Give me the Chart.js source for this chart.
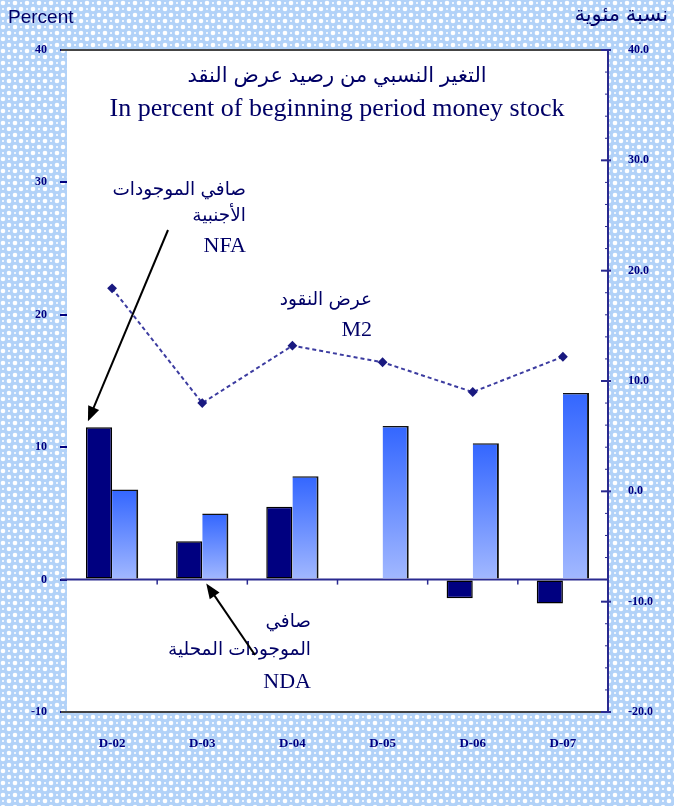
<!DOCTYPE html>
<html>
<head>
<meta charset="utf-8">
<script src="https://cdn.jsdelivr.net/npm/chart.js@4"></script>
<style>
  html, body { margin: 0; padding: 0; background: #fff; }
  #wrap { width: 674px; height: 806px; position: relative; }
</style>
</head>
<body>
<div id="wrap"><canvas id="chart" width="674" height="806"></canvas></div>
<script>
// --- Data ---
const categories = ['D-02', 'D-03', 'D-04', 'D-05', 'D-06', 'D-07'];
const nfaValues = [11.5, 2.9, 5.5, 0, -1.4, -1.8];     // left axis, percent
const ndaValues = [6.8, 5.0, 7.8, 11.6, 10.3, 14.1];   // left axis, percent
const m2Values = [18.4, 8.0, 13.2, 11.7, 9.0, 12.2];   // right axis, percent
const leftTicks = [-10, 0, 10, 20, 30, 40];
const rightTicks = [-20, -10, 0, 10, 20, 30, 40];

const NAVY = '#000066';
const SANS = '"Liberation Sans", "DejaVu Sans", sans-serif';
const SERIF = '"Liberation Serif", "DejaVu Serif", serif';

// light-blue dotted background tile
function makePattern(ctx) {
    const t = document.createElement('canvas');
    t.width = 12; t.height = 12;
    const c = t.getContext('2d');
    c.fillStyle = '#b2d2f8';
    c.fillRect(0, 0, 12, 12);
    c.fillStyle = '#ffffff';
    // big dots
    c.beginPath(); c.arc(3, 3, 2.3, 0, Math.PI * 2); c.fill();
    c.beginPath(); c.arc(9, 9, 2.3, 0, Math.PI * 2); c.fill();
    // small spots between
    c.fillStyle = '#eef5fe';
    c.fillRect(8, 2, 2, 2);
    c.fillRect(2, 8, 2, 2);
    return ctx.createPattern(t, 'repeat');
}

function ndaGradient(context) {
    const chart = context.chart;
    const y = chart.scales.y;
    if (!y || context.dataIndex === undefined) return '#6b8cff';
    const v = ndaValues[context.dataIndex];
    const top = y.getPixelForValue(v);
    const bottom = y.getPixelForValue(0);
    if (!isFinite(top) || !isFinite(bottom) || top === bottom) return '#6b8cff';
    const g = chart.ctx.createLinearGradient(0, top, 0, bottom);
    g.addColorStop(0, '#3366ff');
    g.addColorStop(1, '#a2b8ff');
    return g;
}

function arrow(ctx, x1, y1, x2, y2) {
    const ang = Math.atan2(y2 - y1, x2 - x1);
    const len = 16, w = 0.38;
    ctx.save();
    ctx.strokeStyle = '#000';
    ctx.fillStyle = '#000';
    ctx.lineWidth = 2;
    ctx.beginPath();
    ctx.moveTo(x1, y1);
    ctx.lineTo(x2 - Math.cos(ang) * (len - 2), y2 - Math.sin(ang) * (len - 2));
    ctx.stroke();
    ctx.beginPath();
    ctx.moveTo(x2, y2);
    ctx.lineTo(x2 - len * Math.cos(ang - w), y2 - len * Math.sin(ang - w));
    ctx.lineTo(x2 - len * Math.cos(ang + w), y2 - len * Math.sin(ang + w));
    ctx.closePath();
    ctx.fill();
    ctx.restore();
}

function text(ctx, str, x, y, font, align) {
    ctx.font = font;
    ctx.textAlign = align || 'right';
    ctx.textBaseline = 'middle';
    ctx.fillStyle = NAVY;
    ctx.fillText(str, x, y);
}

const framePlugin = {
    id: 'frame',
    beforeDraw(chart) {
        const ctx = chart.ctx;
        const a = chart.chartArea;
        ctx.save();
        ctx.fillStyle = makePattern(ctx);
        ctx.fillRect(0, 0, chart.width, chart.height);
        ctx.fillStyle = '#fff';
        ctx.fillRect(a.left, a.top, a.right - a.left, a.bottom - a.top);
        ctx.restore();
    },
    beforeDatasetsDraw(chart) {
        const ctx = chart.ctx;
        const a = chart.chartArea;
        const x = chart.scales.x;
        const y = chart.scales.y;
        const y2 = chart.scales.y2;
        ctx.save();
        // top and bottom borders
        ctx.strokeStyle = '#444';
        ctx.lineWidth = 2;
        ctx.beginPath();
        ctx.moveTo(a.left - 6, a.top);
        ctx.lineTo(a.right, a.top);
        ctx.stroke();
        ctx.beginPath();
        ctx.moveTo(a.left - 6, a.bottom);
        ctx.lineTo(a.right, a.bottom);
        ctx.stroke();
        // zero line with category ticks
        const z = y.getPixelForValue(0);
        ctx.strokeStyle = '#2a2a90';
        ctx.lineWidth = 2;
        ctx.beginPath();
        ctx.moveTo(a.left - 6, z);
        ctx.lineTo(a.right, z);
        ctx.stroke();
        ctx.lineWidth = 1.5;
        for (let i = 0; i < categories.length - 1; i++) {
            const bx = (x.getPixelForValue(i) + x.getPixelForValue(i + 1)) / 2;
            ctx.beginPath();
            ctx.moveTo(bx, z);
            ctx.lineTo(bx, z + 5);
            ctx.stroke();
        }
        // right axis line + ticks
        ctx.strokeStyle = '#2a2a90';
        ctx.lineWidth = 2;
        ctx.beginPath();
        ctx.moveTo(a.right, a.top);
        ctx.lineTo(a.right, a.bottom);
        ctx.stroke();
        ctx.lineWidth = 1;
        for (let v = -20; v <= 40; v += 2) {
            const py = y2.getPixelForValue(v);
            ctx.beginPath();
            ctx.moveTo(a.right - 3, py);
            ctx.lineTo(a.right, py);
            ctx.stroke();
        }
        ctx.lineWidth = 2;
        rightTicks.forEach(v => {
            const py = y2.getPixelForValue(v);
            ctx.beginPath();
            ctx.moveTo(a.right - 7, py);
            ctx.lineTo(a.right + 3, py);
            ctx.stroke();
        });
        ctx.restore();
    },
    afterDraw(chart) {
        const ctx = chart.ctx;
        ctx.save();
        // corner labels
        text(ctx, 'Percent', 8, 18, '19px ' + SANS, 'left');
        text(ctx, 'نسبة مئوية', 668, 15, '21px ' + SANS, 'right');
        // title
        text(ctx, 'التغير النسبي من رصيد عرض النقد', 337, 76, '21px ' + SANS, 'center');
        text(ctx, 'In percent of beginning period money stock', 337, 109, '26px ' + SERIF, 'center');
        // NFA note
        text(ctx, 'صافي الموجودات', 246, 190, '18.5px ' + SANS);
        text(ctx, 'الأجنبية', 246, 216, '18.5px ' + SANS);
        text(ctx, 'NFA', 246, 246, '22px ' + SERIF);
        // M2 note
        text(ctx, 'عرض النقود', 372, 300, '18.5px ' + SANS);
        text(ctx, 'M2', 372, 330, '22px ' + SERIF);
        // NDA note
        text(ctx, 'صافي', 311, 622, '18.5px ' + SANS);
        text(ctx, 'الموجودات المحلية', 311, 650, '18.5px ' + SANS);
        text(ctx, 'NDA', 311, 682, '22px ' + SERIF);
        // arrows pointing at bars
        const nfaBar = chart.getDatasetMeta(0).data[0];
        const ndaBar = chart.getDatasetMeta(1).data[1];
        arrow(ctx, 168, 230, nfaBar.x - nfaBar.width / 2 + 2, nfaBar.y - 6);
        arrow(ctx, 255, 655, ndaBar.x - ndaBar.width / 2 + 4, chart.scales.y.getPixelForValue(0) + 4);
        ctx.restore();
    }
};

const ctx = document.getElementById('chart').getContext('2d');
const chart = new Chart(ctx, {
    data: {
        labels: categories,
        datasets: [{
            type: 'bar',
            label: 'NFA',
            data: nfaValues,
            yAxisID: 'y',
            backgroundColor: '#000080',
            borderColor: '#000',
            borderWidth: 1.5,
            borderSkipped: false,
            barPercentage: 1,
            categoryPercentage: 0.58,
            order: 2
        }, {
            type: 'bar',
            label: 'NDA',
            data: ndaValues,
            yAxisID: 'y',
            backgroundColor: ndaGradient,
            borderColor: '#111',
            borderWidth: { top: 1.5, right: 2, left: 0, bottom: 0 },
            borderSkipped: 'start',
            barPercentage: 1,
            categoryPercentage: 0.58,
            order: 2
        }, {
            type: 'line',
            label: 'M2',
            data: m2Values,
            yAxisID: 'y2',
            borderColor: '#3c3ca0',
            borderWidth: 2,
            borderDash: [4, 3],
            pointStyle: 'rectRot',
            pointRadius: 3.5,
            pointBackgroundColor: '#1a1a80',
            pointBorderColor: '#1a1a80',
            tension: 0,
            order: 1
        }]
    },
    options: {
        responsive: false,
        animation: false,
        layout: { padding: { top: 50, left: 0, right: 0, bottom: 0 } },
        plugins: { legend: { display: false }, tooltip: { enabled: false } },
        scales: {
            x: {
                grid: { display: false },
                border: { display: false },
                ticks: {
                    color: '#000080',
                    font: { family: SERIF, size: 13, weight: 'bold' },
                    padding: 16,
                    maxRotation: 0
                },
                afterFit(s) { s.height = 94; }
            },
            y: {
                position: 'left',
                min: -10,
                max: 40,
                afterBuildTicks(s) { s.ticks = leftTicks.map(v => ({ value: v })); },
                grid: { drawOnChartArea: false, tickLength: 7, color: '#000080', lineWidth: 2 },
                border: { display: false },
                ticks: {
                    color: '#000080',
                    font: { family: SERIF, size: 12, weight: 'bold' },
                    padding: 13
                },
                afterFit(s) { s.width = 67; }
            },
            y2: {
                position: 'right',
                min: -20,
                max: 40,
                afterBuildTicks(s) { s.ticks = rightTicks.map(v => ({ value: v })); },
                grid: { drawOnChartArea: false, drawTicks: false },
                border: { display: false },
                ticks: {
                    color: '#000080',
                    font: { family: SERIF, size: 12, weight: 'bold' },
                    padding: 20,
                    callback: v => Number(v).toFixed(1)
                },
                afterFit(s) { s.width = 66; }
            }
        }
    },
    plugins: [framePlugin]
});
</script>
</body>
</html>
